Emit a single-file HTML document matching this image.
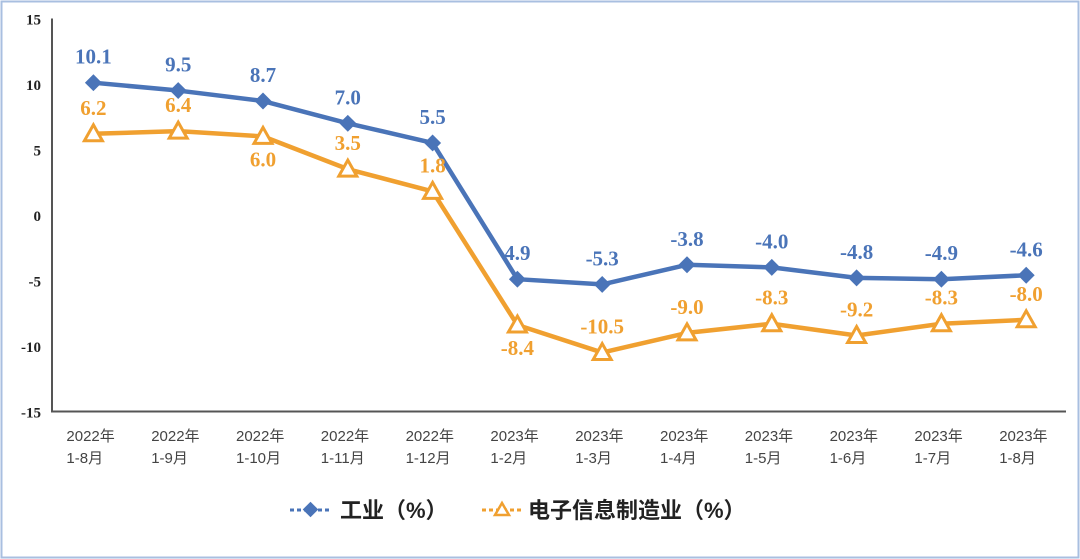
<!DOCTYPE html>
<html><head><meta charset="utf-8"><style>
body{margin:0;background:#fff}
svg{display:block;font-family:"Liberation Serif","Noto Serif CJK SC",serif}
</style></head><body>
<svg width="1080" height="559" viewBox="0 0 1080 559">
<rect x="1.5" y="1.5" width="1077" height="556" fill="#fff" stroke="#a9bfe0" stroke-width="2"/>
<g id="axes"></g>
<g id="marks"></g>
<g font-family="Liberation Sans,Noto Sans CJK SC,sans-serif" font-size="22" fill="#222">
 <g>
  <line x1="290" y1="510" x2="332" y2="510" stroke="#4a74b8" stroke-width="3" stroke-dasharray="4,3"/>
  <rect x="305" y="504" width="11" height="11" fill="#4a74b8" transform="rotate(45 310.5 509.5)"/>
  <text x="340" y="518" font-weight="bold">工业（%）</text>
 </g>
 <g>
  <line x1="482" y1="510" x2="522" y2="510" stroke="#f0a030" stroke-width="3" stroke-dasharray="4,3"/>
  <polygon points="502,503 509,515 495,515" fill="#fff" stroke="#f0a030" stroke-width="2.5"/>
  <text x="528" y="518" font-weight="bold">电子信息制造业（%）</text>
 </g>
</g>
</svg>
<script>
const categories1=["2022年","2022年","2022年","2022年","2022年","2023年","2023年","2023年","2023年","2023年","2023年","2023年"];
const categories2=["1-8月","1-9月","1-10月","1-11月","1-12月","1-2月","1-3月","1-4月","1-5月","1-6月","1-7月","1-8月"];
const industry=[10.1,9.5,8.7,7.0,5.5,-4.9,-5.3,-3.8,-4.0,-4.8,-4.9,-4.6];
const industryLabels=["10.1","9.5","8.7","7.0","5.5","4.9","-5.3","-3.8","-4.0","-4.8","-4.9","-4.6"];
const electronics=[6.2,6.4,6.0,3.5,1.8,-8.4,-10.5,-9.0,-8.3,-9.2,-8.3,-8.0];
const electronicsLabels=["6.2","6.4","6.0","3.5","1.8","-8.4","-10.5","-9.0","-8.3","-9.2","-8.3","-8.0"];
const electronicsBelow=[0,0,1,0,0,1,0,0,0,0,0,0];
const yTicks=[15,10,5,0,-5,-10,-15];
const NS="http://www.w3.org/2000/svg";
const x=i=>51+(i+0.5)*84.8;
const y=v=>215-13.1*v;
function mk(tag,attrs,parent,txt){const e=document.createElementNS(NS,tag);for(const k in attrs)e.setAttribute(k,attrs[k]);if(txt!=null)e.textContent=txt;parent.appendChild(e);return e;}
const ax=document.getElementById('axes'),mg=document.getElementById('marks');
let l=mk('line',{x1:52,y1:y(15),x2:52,y2:y(-15),stroke:'#555','stroke-width':2},ax);


l=mk('line',{x1:51,y1:y(-15),x2:1066,y2:y(-15),stroke:'#555','stroke-width':2},ax);


yTicks.forEach(v=>{const t=mk('text',{x:41,y:y(v)+6,'text-anchor':'end','font-size':15,'font-weight':'bold',fill:'#222'},ax,v);

});
categories1.forEach((c,i)=>{const t=mk('text',{x:x(i)-27,y:441,'font-size':15,fill:'#444','font-family':'Liberation Sans,Noto Sans CJK SC,sans-serif'},ax);


mk('tspan',{x:x(i)-27,dy:0},t,c);mk('tspan',{x:x(i)-27,dy:22},t,categories2[i]);});
function series(vals,labs,color,name,marker,below){
 const pts=vals.map((v,i)=>x(i)+','+y(v)).join(' ');
 const p=mk('polyline',{points:pts,fill:'none',stroke:color,'stroke-width':4.5,'stroke-linejoin':'round'},mg);
 
 
 vals.forEach((v,i)=>{let m;
  if(marker==='d'){m=mk('rect',{x:x(i)-6,y:y(v)-6,width:12,height:12,fill:color,transform:`rotate(45 ${x(i)} ${y(v)})`},mg);}
  else{m=mk('polygon',{points:`${x(i)},${y(v)-9} ${x(i)+9},${y(v)+7} ${x(i)-9},${y(v)+7}`,fill:'#fff',stroke:color,'stroke-width':3},mg);}
  
  
  const b=below&&below[i];
  const t=mk('text',{x:x(i),y:b?y(v)+30:y(v)-19,'text-anchor':'middle','font-size':21,'font-weight':'bold',fill:color},mg,labs[i]);
  
  
 });
}
series(industry,industryLabels,'#4a74b8','industry','d',null);
series(electronics,electronicsLabels,'#f0a030','electronics','t',electronicsBelow);
</script>
</body></html>
